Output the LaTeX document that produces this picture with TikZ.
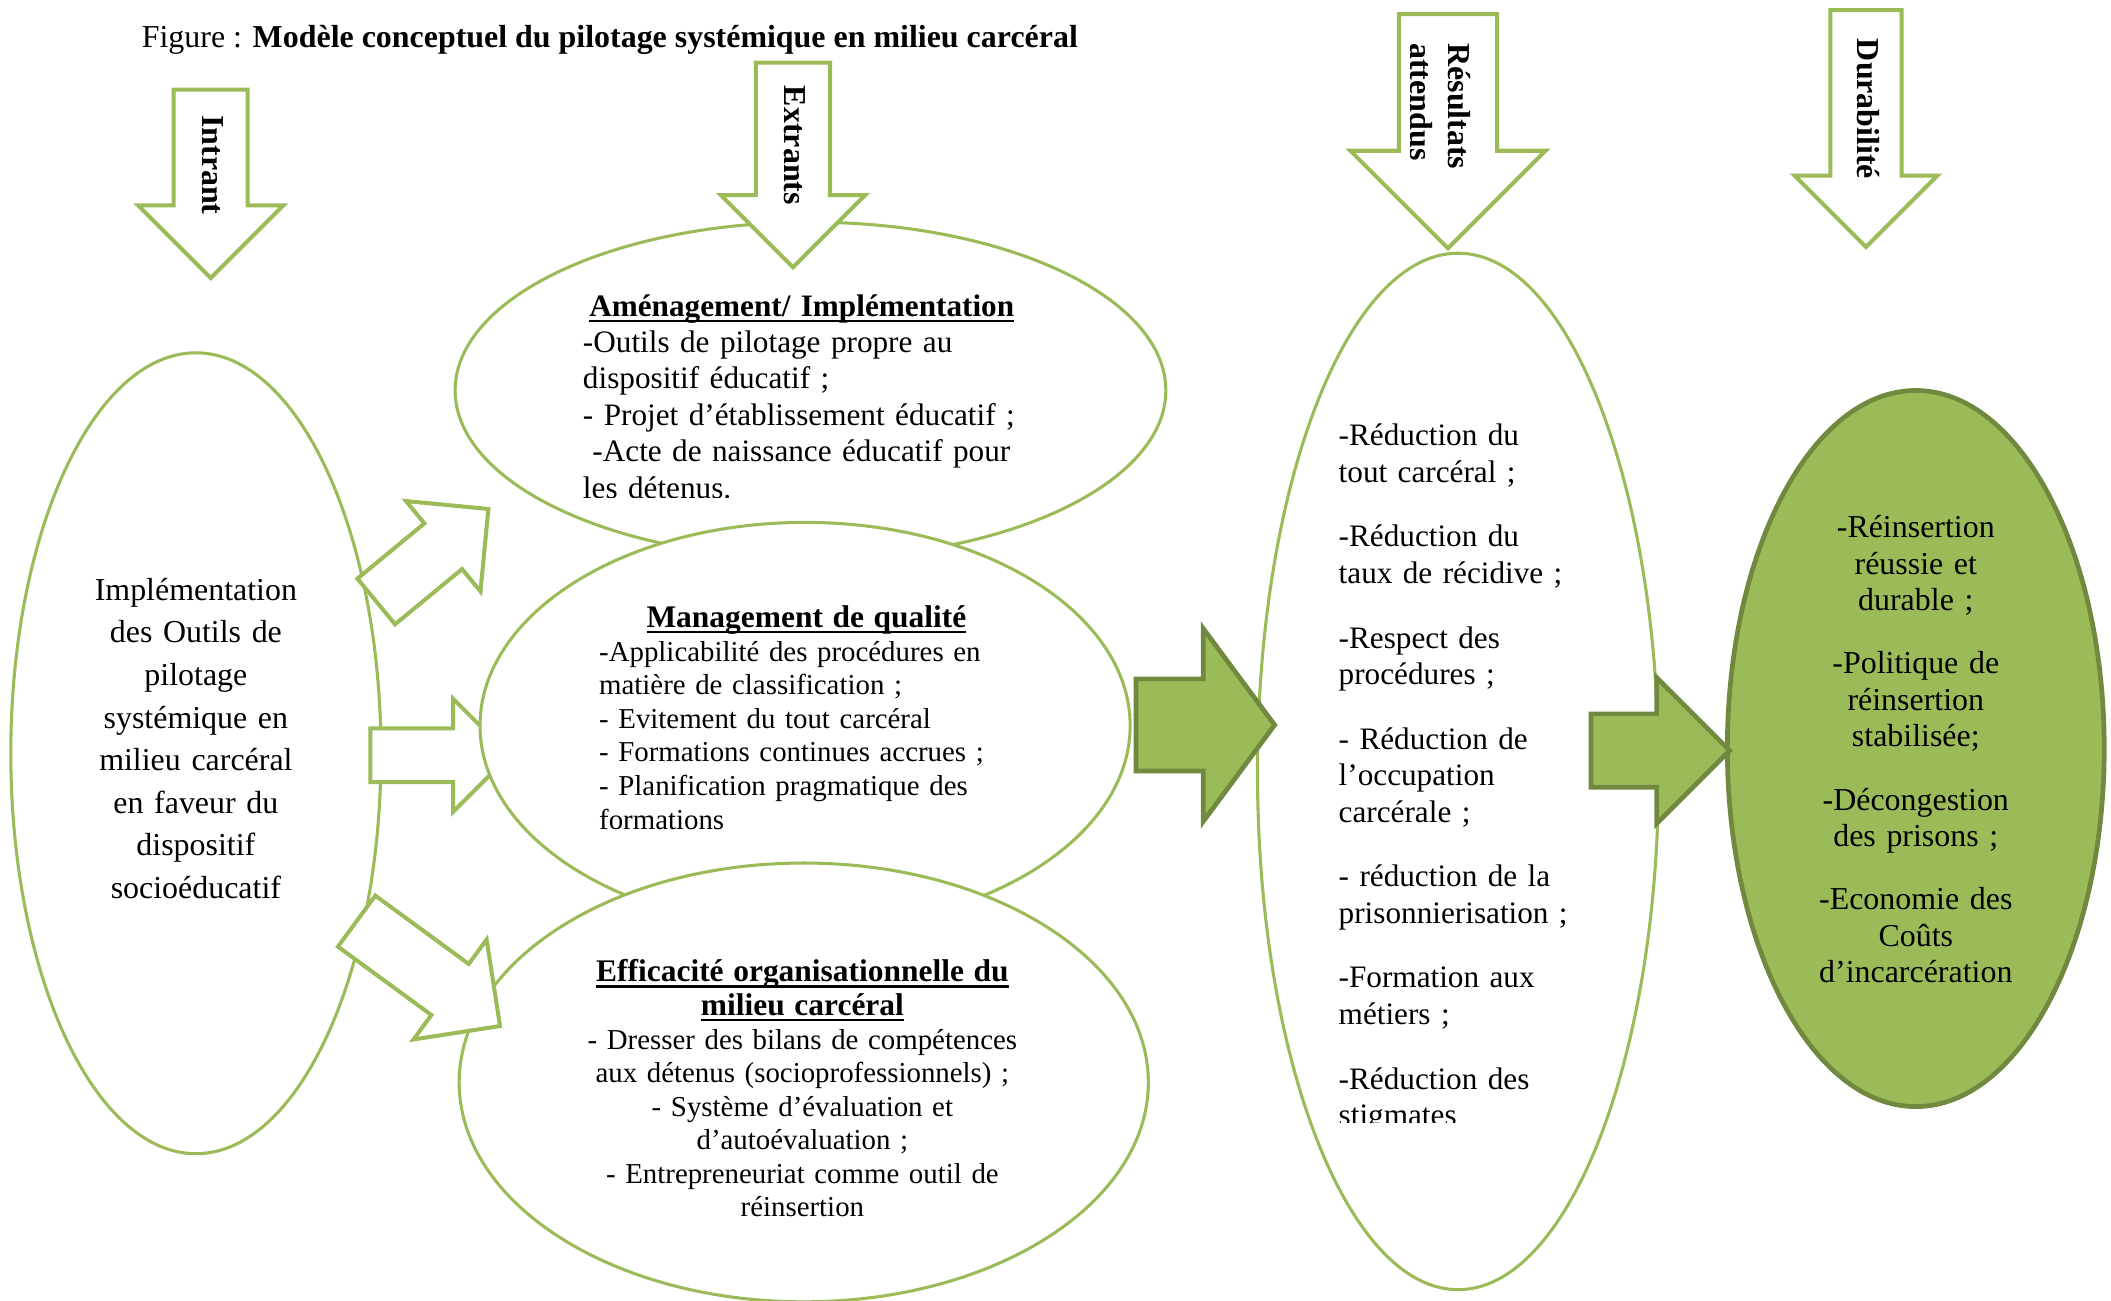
\documentclass[tikz,border=0pt]{standalone}
\usepackage{fontspec}
\setmainfont{Liberation Serif}
\usetikzlibrary{shapes.geometric, shapes.arrows}
\definecolor{leafgreen}{RGB}{155, 187, 89}
\definecolor{darkleaf}{RGB}{113, 137, 63}
\newcommand{\thickul}[1]{\leavevmode\setbox0\hbox{#1}\rlap{\rule[-2.4pt]{\wd0}{0.9pt}}\box0}

\tikzset{
  ellbox/.style={ellipse, draw=leafgreen, line width=1.3pt, fill=white, inner sep=0pt},
  openarrow/.style={single arrow, draw=leafgreen, line width=1.7pt, fill=white, inner xsep=0pt, anchor=tail},
  solidarrow/.style={single arrow, draw=darkleaf, fill=leafgreen, line width=2pt, inner xsep=0pt, anchor=tail},
  bigtxt/.style={font=\fontsize{13.5}{15.4}\selectfont, inner sep=0pt},
  midtxt/.style={font=\fontsize{13.2}{15.4}\selectfont, inner sep=0pt},
  smalltxt/.style={font=\fontsize{12.2}{14.2}\selectfont, inner sep=0pt},
  tagtxt/.style={font=\fontsize{13.5}{16}\selectfont\bfseries, rotate=-90, inner sep=0pt},
}

\begin{document}
\begin{tikzpicture}[x=0.02cm, y=-0.02cm]
  \useasboundingbox (0,0) rectangle (1568,966);

  % Title
  \node[bigtxt, anchor=west] (title) at (105, 30) {Figure : \textbf{Modèle conceptuel du pilotage systémique en milieu carcéral}};

  % Intrant ellipse
  \node[ellbox, minimum width=5.5cm, minimum height=11.9cm] (inputs) at (145.5, 559.5) {};

  % Three output ellipses with the arrows feeding them
  \node[ellbox, minimum width=10.56cm, minimum height=5cm] (amenag) at (602, 290) {};
  \node[openarrow, rotate=39.5, minimum height=2.16cm, inner ysep=0.41cm, single arrow head extend=0.43cm] (toamenag) at (278.3, 447.7) {};
  \node[openarrow, minimum height=2.07cm, inner ysep=0.37cm, single arrow head extend=0.44cm] (tomanag) at (273.6, 561) {};
  \node[ellbox, minimum width=9.66cm, minimum height=6.04cm] (manag) at (598, 539) {};
  \node[ellbox, minimum width=10.24cm, minimum height=6.52cm] (effic) at (597, 804) {};
  \node[openarrow, rotate=-36.2, minimum height=2.64cm, inner ysep=0.44cm, single arrow head extend=0.45cm] (toeffic) at (263.7, 683.3) {};

  % Results and sustainability
  \node[ellbox, minimum width=5.96cm, minimum height=15.4cm] (results) at (1083, 573) {};
  \node[ellbox, draw=darkleaf, fill=leafgreen, line width=2pt, minimum width=5.6cm, minimum height=10.64cm] (durab) at (1423, 556) {};
  \node[solidarrow, minimum height=2.06cm, inner ysep=0.65cm, single arrow head extend=0.75cm, single arrow tip angle=107] (toresults) at (842, 538.5) {};
  \node[solidarrow, minimum height=2.06cm, inner ysep=0.51cm, single arrow head extend=0.54cm] (todurab) at (1180, 557.5) {};

  % Column headers
  \node[openarrow, rotate=-90, minimum height=2.8cm, inner ysep=0.52cm, single arrow head extend=0.53cm] (intrant) at (156.5, 65) {};
  \node[openarrow, rotate=-90, minimum height=3.04cm, inner ysep=0.52cm, single arrow head extend=0.52cm] (extrants) at (589, 45) {};
  \node[openarrow, rotate=-90, minimum height=3.48cm, inner ysep=0.7cm, single arrow head extend=0.72cm] (resultats) at (1075.5, 9) {};
  \node[openarrow, rotate=-90, minimum height=3.52cm, inner ysep=0.5cm, single arrow head extend=0.53cm] (durabilite) at (1386, 6) {};

  \node[tagtxt] (intranttxt) at (158, 122.5) {Intrant};
  \node[tagtxt] (extrantstxt) at (590, 108) {Extrants};
  \begin{scope}
    \clip (1048, 0) rectangle (1120, 200);
    \node[tagtxt, align=left] (resultatstxt) at (1070, 79) {Résultats\\attendus};
  \end{scope}
  \node[tagtxt] (durabilitetxt) at (1387.5, 81) {Durabilité};

  % Texts
  \node[font=\fontsize{13.5}{18}\selectfont, inner sep=0pt, text width=5cm, align=center] (inputstxt) at (145.5, 548.5) {
    Implémentation\\des Outils de\\pilotage\\systémique en\\milieu carcéral\\en faveur du\\dispositif\\socioéducatif
  };

  \begin{scope}
    \clip (400, 200) rectangle (800, 369.5);
    \node[midtxt, text width=6.5cm, align=left] (amenagtxt) at (595.5, 294.5) {
      \centerline{\thickul{\textbf{Aménagement/ Implémentation}}}
      -Outils de pilotage propre au\\
      dispositif éducatif ;\\
      - Projet d’établissement éducatif ;\\
      \hspace*{4pt}-Acte de naissance éducatif pour\\
      les détenus.
    };
  \end{scope}

  \node[smalltxt, text width=6.16cm, align=left] (managtxt) at (599, 533) {
    \centerline{\fontsize{13.3}{15.4}\selectfont\thickul{\textbf{Management de qualité}}}
    -Applicabilité des procédures en\\
    matière de classification ;\\
    - Evitement du tout carcéral\\
    - Formations continues accrues ;\\
    - Planification pragmatique des\\
    formations
  };

  \node[smalltxt, text width=7cm, align=center] (effictxt) at (596, 808.5) {
    {\fontsize{13.3}{15.4}\selectfont\thickul{\textbf{Efficacité organisationnelle du}}}\\
    {\fontsize{13.3}{15.4}\selectfont\thickul{\textbf{milieu carcéral}}}\\
    - Dresser des bilans de compétences\\
    aux détenus (socioprofessionnels) ;\\
    - Système d’évaluation et\\
    d’autoévaluation ;\\
    - Entrepreneuriat comme outil de\\
    réinsertion
  };

  \begin{scope}
    \clip (980, 290) rectangle (1200, 834);
    \node[midtxt, text width=4cm, align=left, anchor=west] (resultstxt) at (994, 578) {
      -Réduction du\\
      tout carcéral ;\\[0.42cm]
      -Réduction du\\
      taux de récidive ;\\[0.42cm]
      -Respect des\\
      procédures ;\\[0.42cm]
      - Réduction de\\
      l’occupation\\
      carcérale ;\\[0.42cm]
      - réduction de la\\
      prisonnierisation ;\\[0.42cm]
      -Formation aux\\
      métiers ;\\[0.42cm]
      -Réduction des\\
      stigmates
    };
  \end{scope}

  \node[bigtxt, text width=4.6cm, align=center] (durabtxt) at (1423, 556.5) {
    -Réinsertion\\réussie et\\durable ;\\[0.4cm]
    -Politique de\\réinsertion\\stabilisée;\\[0.4cm]
    -Décongestion\\des prisons ;\\[0.4cm]
    -Economie des\\Coûts\\d’incarcération
  };
\end{tikzpicture}
\end{document}
